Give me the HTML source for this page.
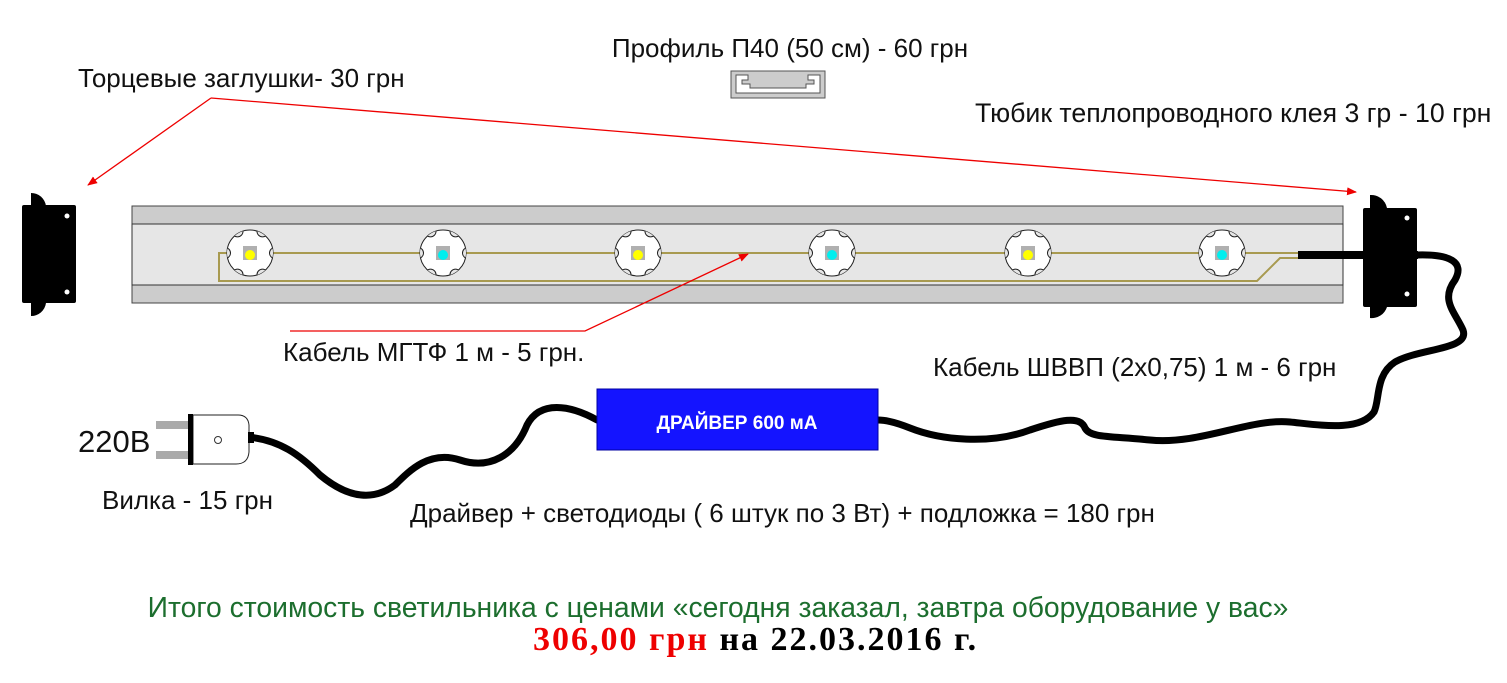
<!DOCTYPE html>
<html><head><meta charset="utf-8"><style>
html,body{margin:0;padding:0;background:#fff;}
svg{display:block;}
text{font-family:"Liberation Sans",sans-serif;}
</style></head><body>
<svg width="1507" height="683" viewBox="0 0 1507 683" xmlns="http://www.w3.org/2000/svg">
<defs>
<marker id="ar" markerWidth="10" markerHeight="8" refX="9" refY="4" orient="auto" markerUnits="userSpaceOnUse">
<path d="M0,0 L10,4 L0,8 z" fill="#e00"/></marker>
<clipPath id="cc"><circle cx="0" cy="0" r="23"/></clipPath>
<g id="star">
<circle cx="0" cy="0" r="23" fill="#fff" stroke="#222" stroke-width="1"/>
<g clip-path="url(#cc)" fill="#e6e6e6" stroke="#222" stroke-width="1">
<circle cx="25" cy="0" r="5.5"/><circle cx="-25" cy="0" r="5.5"/>
<circle cx="12.5" cy="21.6" r="5.5"/><circle cx="-12.5" cy="21.6" r="5.5"/>
<circle cx="12.5" cy="-21.6" r="5.5"/><circle cx="-12.5" cy="-21.6" r="5.5"/>
</g>
<rect x="-7" y="-7" width="14" height="14" fill="#b0b0b0"/>
</g>
</defs>

<!-- texts -->
<text x="790" y="57" font-size="26" text-anchor="middle" fill="#111">Профиль П40 (50 см) - 60 грн</text>
<text x="78" y="87" font-size="26" fill="#111">Торцевые заглушки- 30 грн</text>
<text x="975" y="122" font-size="26.7" fill="#111">Тюбик теплопроводного клея 3 гр - 10 грн</text>
<text x="283" y="361" font-size="26" fill="#111">Кабель МГТФ 1 м - 5 грн.</text>
<text x="933" y="376" font-size="26" fill="#111">Кабель ШВВП (2х0,75) 1 м - 6 грн</text>
<text x="78" y="452" font-size="31" fill="#111">220B</text>
<text x="102" y="509" font-size="26" fill="#111">Вилка - 15 грн</text>
<text x="410" y="522" font-size="26" fill="#111">Драйвер + светодиоды ( 6 штук по 3 Вт) + подложка = 180 грн</text>
<text x="718" y="617" font-size="28.3" text-anchor="middle" fill="#1c6e2e">Итого стоимость светильника с ценами «сегодня заказал, завтра оборудование у вас»</text>
<text x="533" y="650" font-size="34" font-weight="bold" letter-spacing="2" style="font-family:'Liberation Serif',serif"><tspan fill="#e00">306,00 грн</tspan><tspan fill="#000"> на 22.03.2016 г.</tspan></text>

<!-- profile icon -->
<path d="M731,71 H825 V98 H731 Z M736,75 V93 H820 V75 H808 V80 H814 V84 H806 V88 H750 V84 H742 V80 H748 V75 Z" fill="#ccc" fill-rule="evenodd" stroke="#555" stroke-width="1"/>

<!-- bar -->
<rect x="132" y="206" width="1211" height="97" fill="#ccc" stroke="#444" stroke-width="1"/>
<rect x="132" y="224" width="1211" height="61" fill="#e6e6e6" stroke="#333" stroke-width="1"/>

<!-- traces -->
<g fill="none" stroke="#a89a50" stroke-width="2">
<path d="M250,253 H1298"/>
<path d="M230,253 H219 V281 H1257 L1280,258 H1298"/>
</g>

<use href="#star" x="250" y="253"/><use href="#star" x="443" y="253"/><use href="#star" x="638" y="253"/>
<use href="#star" x="832" y="253"/><use href="#star" x="1028" y="253"/><use href="#star" x="1222" y="253"/>
<g>
<circle cx="250" cy="255" r="5" fill="#ff0"/><circle cx="443" cy="255" r="5" fill="#0ee"/><circle cx="638" cy="255" r="5" fill="#ff0"/>
<circle cx="832" cy="255" r="5" fill="#0ee"/><circle cx="1028" cy="255" r="5" fill="#ff0"/><circle cx="1222" cy="255" r="5" fill="#0ee"/>
</g>

<!-- left cap -->
<path d="M31,193 A15,15 0 0 1 46,206 V303 A15,15 0 0 1 31,316 Z" fill="#000"/>
<rect x="22" y="205" width="54" height="98" rx="2" fill="#000"/>
<circle cx="67" cy="216" r="2.5" fill="#fff"/><circle cx="67" cy="292" r="2.5" fill="#fff"/>

<!-- right cap -->
<path d="M1370,195 A16,16 0 0 1 1387,208 V307 A16,16 0 0 1 1370,318 Z" fill="#000"/>
<rect x="1363" y="208" width="54" height="99" rx="2" fill="#000"/>
<circle cx="1407" cy="218" r="2.5" fill="#fff"/><circle cx="1407" cy="294" r="2.5" fill="#fff"/>
<rect x="1298" y="251" width="120" height="8" fill="#000"/>

<!-- cable right -->
<path d="M1417,255 C1450,254 1465,262 1455,280 C1440,300 1455,312 1463,330 C1470,350 1420,348 1395,362 C1375,375 1380,400 1374,412 C1360,432 1320,425 1290,422 C1250,418 1200,445 1150,440 C1110,436 1090,438 1085,428 C1080,415 1060,420 1030,430 C990,445 940,440 910,428 C895,422 885,420 878,420" fill="none" stroke="#000" stroke-width="7" stroke-linecap="round"/>
<!-- cable left -->
<path d="M597,420 C570,405 540,400 527,425 C515,455 490,470 460,460 C430,450 410,470 395,485 C375,500 350,500 320,475 C300,455 280,440 248,437" fill="none" stroke="#000" stroke-width="7" stroke-linecap="round"/>

<!-- driver -->
<rect x="597" y="389" width="281" height="61" fill="#1414ff" stroke="#0000a0" stroke-width="1"/>
<text x="737" y="429" font-size="19" font-weight="bold" fill="#fff" text-anchor="middle">ДРАЙВЕР 600 мА</text>

<!-- plug -->
<rect x="156" y="421" width="34" height="8" fill="#aaa"/>
<rect x="156" y="451" width="34" height="8" fill="#aaa"/>
<path d="M193,415 H238 Q248,415 249,425 V452 Q248,464 236,464 H193 Z" fill="#fff" stroke="#222" stroke-width="1"/>
<rect x="188" y="414" width="5" height="51" fill="#000"/>
<rect x="248" y="432" width="6" height="11" fill="#000"/>
<circle cx="218" cy="440" r="3.5" fill="none" stroke="#333" stroke-width="1"/>

<!-- red arrows -->
<g stroke="#e00" stroke-width="1.3" fill="none">
<line x1="211" y1="98" x2="88" y2="185" marker-end="url(#ar)"/>
<line x1="211" y1="98" x2="1356" y2="192" marker-end="url(#ar)"/>
<path d="M290,331 H585 L748,254" marker-end="url(#ar)"/>
</g>
</svg>
</body></html>
